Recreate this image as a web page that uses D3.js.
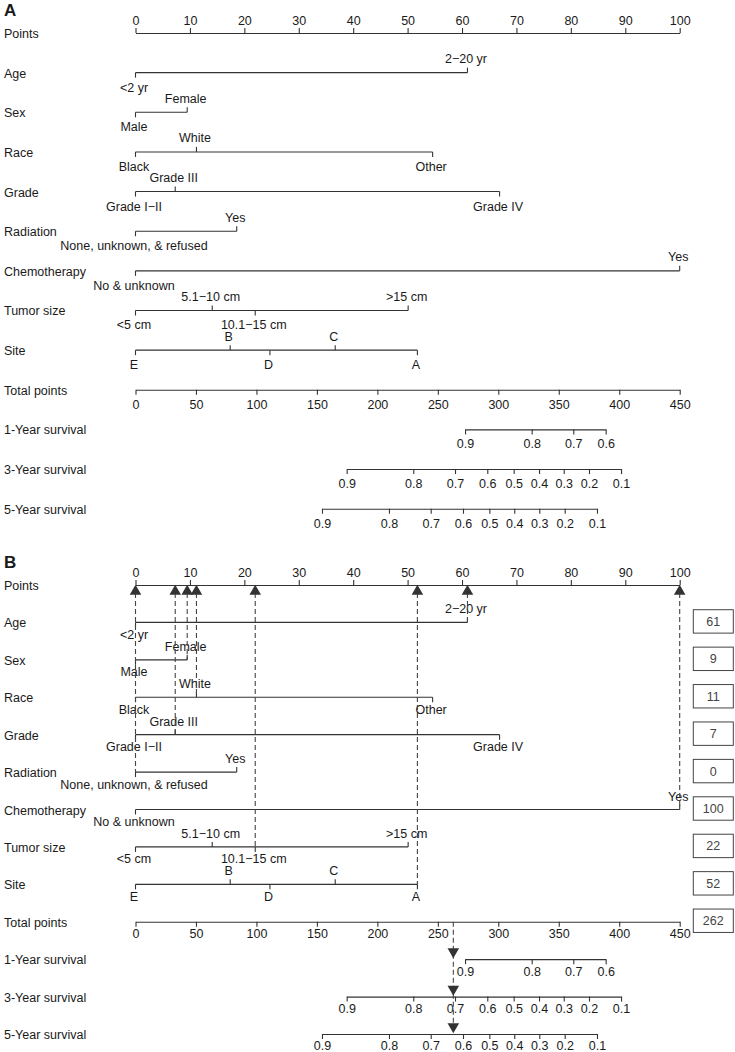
<!DOCTYPE html>
<html lang="en">
<head>
    <meta charset="UTF-8">
    <title>Nomogram</title>
    <script src="https://d3js.org/d3.v7.min.js"></script>
    <style>
        body {
            margin: 0;
            background-color: #fff;
        }

        svg text {
            font-family: "Liberation Sans", Arial, sans-serif;
            font-size: 12.5px;
            fill: #1a1a1a;
        }

        .panel-letter {
            font-weight: bold;
            font-size: 17px;
        }

        .axis path, .axis line, .level-line {
            stroke: #333;
            stroke-width: 1.1;
            fill: none;
        }

        .guide {
            stroke: #444;
            stroke-width: 1.1;
            stroke-dasharray: 5,3;
            fill: none;
        }
    </style>
</head>
<body>
    <div id="chart"></div>
    <script>
        const width = 735;
        const height = 1052;

        // row names of the nomogram
        const rowNames = ["Points", "Age", "Sex", "Race", "Grade", "Radiation", "Chemotherapy",
            "Tumor size", "Site", "Total points", "1-Year survival", "3-Year survival", "5-Year survival"];

        const pointsTicks = [0, 10, 20, 30, 40, 50, 60, 70, 80, 90, 100];
        const totalTicks = [0, 50, 100, 150, 200, 250, 300, 350, 400, 450];

        // predictor levels and their points
        const ageLevels = ["<2 yr", "2\u221220 yr"];
        const agePoints = [0, 61];
        const sexLevels = ["Male", "Female"];
        const sexPoints = [0, 9.5];
        const raceLevels = ["Black", "White", "Other"];
        const racePoints = [0, 11.2, 54.6];
        const gradeLevels = ["Grade I\u2212II", "Grade III", "Grade IV"];
        const gradePoints = [0, 7.3, 66.9];
        const radiationLevels = ["None, unknown, & refused", "Yes"];
        const radiationPoints = [0, 18.6];
        const chemoLevels = ["No & unknown", "Yes"];
        const chemoPoints = [0, 100];
        const tumorLevels = ["<5 cm", "5.1\u221210 cm", "10.1\u221215 cm", ">15 cm"];
        const tumorPoints = [0, 14.1, 22.0, 50.1];
        const siteLevels = ["E", "B", "D", "C", "A"];
        const sitePoints = [0, 17.4, 24.7, 36.7, 51.8];

        // survival axes (labels and their total points position)
        const surv1Labels = ["0.9", "0.8", "0.7", "0.6"];
        const surv1Points = [272.5, 327.6, 362.0, 388.8];
        const surv3Labels = ["0.9", "0.8", "0.7", "0.6", "0.5", "0.4", "0.3", "0.2", "0.1"];
        const surv3Points = [174.6, 229.7, 264.2, 290.9, 312.7, 333.7, 354.1, 375.0, 401.5];
        const surv5Labels = ["0.9", "0.8", "0.7", "0.6", "0.5", "0.4", "0.3", "0.2", "0.1"];
        const surv5Points = [154.2, 209.6, 244.1, 270.8, 292.6, 313.2, 333.9, 354.9, 381.6];

        // example patient in panel B
        const patientLevels = ["2\u221220 yr", "Female", "White", "Grade III", "None, unknown, & refused", "Yes", "10.1\u221215 cm", "A"];
        const patientScores = [61, 9, 11, 7, 0, 100, 22, 52];
        const patientTotal = 262;

        const predictors = [
            { name: "Age", levels: ageLevels, points: agePoints },
            { name: "Sex", levels: sexLevels, points: sexPoints },
            { name: "Race", levels: raceLevels, points: racePoints },
            { name: "Grade", levels: gradeLevels, points: gradePoints },
            { name: "Radiation", levels: radiationLevels, points: radiationPoints },
            { name: "Chemotherapy", levels: chemoLevels, points: chemoPoints },
            { name: "Tumor size", levels: tumorLevels, points: tumorPoints },
            { name: "Site", levels: siteLevels, points: sitePoints }
        ];
        const survivals = [
            { name: "1-Year survival", labels: surv1Labels, points: surv1Points },
            { name: "3-Year survival", labels: surv3Labels, points: surv3Points },
            { name: "5-Year survival", labels: surv5Labels, points: surv5Points }
        ];

        const svg = d3.select("#chart")
            .append("svg")
            .attr("width", width)
            .attr("height", height);

        const x0 = 135.5, x1 = 679.7;
        const xPts = d3.scaleLinear().domain([0, 100]).range([x0, x1]);
        const xTot = d3.scaleLinear().domain([0, 450]).range([x0, x1]);

        const tickLen = 5;

        // below: baseline offset of labels under a line; above: offset of labels over a line
        function drawPanel(letter, yTop, yBottom, letterY, below, above, withPatient) {
            const y = d3.scalePoint().domain(rowNames).range([yTop, yBottom]);
            const g = svg.append("g");
            const pad = below - tickLen - 8.9;

            g.append("text")
                .attr("class", "panel-letter")
                .attr("x", 4)
                .attr("y", letterY)
                .text(letter);

            // row labels
            g.selectAll(".row-label")
                .data(rowNames)
                .enter()
                .append("text")
                .attr("class", "row-label")
                .attr("x", 4)
                .attr("y", d => y(d) + 5)
                .text(d => d);

            // points axis
            g.append("g")
                .attr("class", "axis")
                .attr("transform", `translate(0,${y("Points")})`)
                .call(d3.axisTop(xPts).tickValues(pointsTicks).tickSize(tickLen).tickSizeOuter(0).tickPadding(3))
                .attr("font-family", null).attr("font-size", null);

            // predictor lines
            predictors.forEach(p => {
                const ry = y(p.name);
                const lg = g.append("g");
                lg.append("line")
                    .attr("class", "level-line")
                    .attr("x1", xPts(d3.min(p.points)))
                    .attr("x2", xPts(d3.max(p.points)))
                    .attr("y1", ry)
                    .attr("y2", ry);
                const order = d3.range(p.levels.length).sort((a, b) => p.points[a] - p.points[b]);
                const items = order.map((idx, k) => ({ label: p.levels[idx], pts: p.points[idx], above: k % 2 === 1 }));
                lg.selectAll(".level-tick")
                    .data(items)
                    .enter()
                    .append("line")
                    .attr("class", "level-line")
                    .attr("x1", d => xPts(d.pts))
                    .attr("x2", d => xPts(d.pts))
                    .attr("y1", ry)
                    .attr("y2", d => d.above ? ry - tickLen : ry + tickLen);
                lg.selectAll(".level-label")
                    .data(items)
                    .enter()
                    .append("text")
                    .attr("text-anchor", "middle")
                    .attr("x", d => xPts(d.pts) - 1.5)
                    .attr("y", d => d.above ? ry - above : ry + below)
                    .text(d => d.label);
            });

            // total points axis
            g.append("g")
                .attr("class", "axis")
                .attr("transform", `translate(0,${y("Total points")})`)
                .call(d3.axisBottom(xTot).tickValues(totalTicks).tickSize(tickLen).tickSizeOuter(0).tickPadding(pad))
                .attr("font-family", null).attr("font-size", null);

            // survival axes
            survivals.forEach(s => {
                const lo = d3.min(s.points), hi = d3.max(s.points);
                const sx = d3.scaleLinear().domain([lo, hi]).range([xTot(lo), xTot(hi)]);
                g.append("g")
                    .attr("class", "axis")
                    .attr("transform", `translate(0,${y(s.name)})`)
                    .call(d3.axisBottom(sx).tickValues(s.points).tickSize(tickLen).tickSizeOuter(0).tickPadding(pad)
                        .tickFormat((d, i) => s.labels[i]))
                    .attr("font-family", null).attr("font-size", null);
            });

            if (!withPatient) return;

            const tri = d3.symbol().type(d3.symbolTriangle).size(58);
            const yPoints = y("Points");

            // guides from points axis to each selected level
            const picks = predictors.map((p, i) => {
                const idx = p.levels.indexOf(patientLevels[i]);
                return { name: p.name, pts: p.points[idx], score: patientScores[i] };
            });

            g.selectAll(".guide-pred")
                .data(picks)
                .enter()
                .append("line")
                .attr("class", "guide")
                .attr("x1", d => xPts(d.pts))
                .attr("x2", d => xPts(d.pts))
                .attr("y1", yPoints + 8)
                .attr("y2", d => y(d.name));

            g.selectAll(".tri-up")
                .data(picks)
                .enter()
                .append("path")
                .attr("d", tri)
                .attr("fill", "#333")
                .attr("transform", d => `translate(${xPts(d.pts)},${yPoints + 6.5})`);

            // total points guide
            const exactTotal = d3.sum(picks, d => d.pts);
            const xt = xTot(exactTotal);
            g.append("line")
                .attr("class", "guide")
                .attr("x1", xt)
                .attr("x2", xt)
                .attr("y1", y("Total points"))
                .attr("y2", y("5-Year survival") - 6);

            g.selectAll(".tri-down")
                .data(survivals)
                .enter()
                .append("path")
                .attr("d", tri)
                .attr("fill", "#333")
                .attr("transform", d => `translate(${xt},${y(d.name) - 7.5}) rotate(180)`);

            // score boxes
            const boxes = picks.map(d => ({ row: d.name, score: d.score }))
                .concat([{ row: "Total points", score: patientTotal }]);
            const bw = 40, bh = 23.4, bx = 693.3;
            g.selectAll(".score-box")
                .data(boxes)
                .enter()
                .append("rect")
                .attr("x", bx)
                .attr("y", d => y(d.row) - bh / 2 - 1)
                .attr("width", bw)
                .attr("height", bh)
                .attr("fill", "#fff")
                .attr("stroke", "#444")
                .attr("stroke-width", 1);
            g.selectAll(".score-text")
                .data(boxes)
                .enter()
                .append("text")
                .attr("text-anchor", "middle")
                .attr("x", bx + bw / 2)
                .attr("y", d => y(d.row) + 3.5)
                .style("fill", "#444")
                .text(d => d.score);
        }

        drawPanel("A", 33, 508.7, 15.5, 19, 9.5, false);
        drawPanel("B", 585, 1034, 568, 16.5, 9, true);
    </script>
</body>
</html>
